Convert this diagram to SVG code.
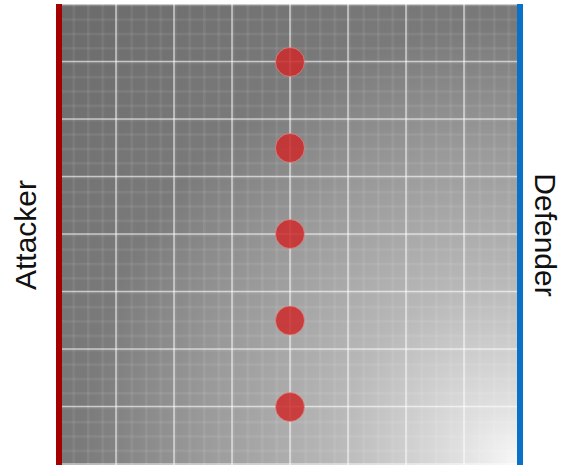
<svg xmlns="http://www.w3.org/2000/svg" width="571" height="465" viewBox="0 0 571 465">
  <defs>
    <radialGradient id="bg" gradientUnits="userSpaceOnUse" cx="515" cy="460" r="620">
      <stop offset="0" stop-color="#f6f6f6"/>
      <stop offset="0.09" stop-color="#e0e0e0"/>
      <stop offset="0.29" stop-color="#b8b8b8"/>
      <stop offset="0.51" stop-color="#999999"/>
      <stop offset="0.70" stop-color="#7a7a7a"/>
      <stop offset="1" stop-color="#6c6c6c"/>
    </radialGradient>
    <pattern id="minor" patternUnits="userSpaceOnUse" x="58" y="4" width="14.5" height="14.375">
      <rect x="0" y="0" width="2.5" height="14.375" fill="#ffffff" fill-opacity="0.07"/>
      <rect x="0" y="0" width="14.5" height="2.5" fill="#ffffff" fill-opacity="0.07"/>
    </pattern>
    <style>
      .major { stroke: #ffffff; stroke-opacity: 0.6; stroke-width: 1.6; fill: none; }
      .dot { fill: #cc2a2a; fill-opacity: 0.85; stroke: #f09090; stroke-opacity: 0.6; stroke-width: 1; }
      .lbl { font-family: "Liberation Sans", Arial, sans-serif; font-size: 30px; fill: #111111; }
    </style>
  </defs>

  <rect x="0" y="0" width="571" height="465" fill="#ffffff"/>

  <g id="field">
    <rect x="58" y="4" width="464" height="461" fill="url(#bg)"/>
    <rect x="58" y="4" width="464" height="461" fill="url(#minor)"/>
    <g class="major">
      <line x1="116" y1="4" x2="116" y2="465"/>
      <line x1="174" y1="4" x2="174" y2="465"/>
      <line x1="232" y1="4" x2="232" y2="465"/>
      <line x1="290" y1="4" x2="290" y2="465"/>
      <line x1="348" y1="4" x2="348" y2="465"/>
      <line x1="406" y1="4" x2="406" y2="465"/>
      <line x1="464" y1="4" x2="464" y2="465"/>
      <line x1="58" y1="4.5" x2="522" y2="4.5"/>
      <line x1="58" y1="61.5" x2="522" y2="61.5"/>
      <line x1="58" y1="119" x2="522" y2="119"/>
      <line x1="58" y1="176.5" x2="522" y2="176.5"/>
      <line x1="58" y1="234" x2="522" y2="234"/>
      <line x1="58" y1="291.5" x2="522" y2="291.5"/>
      <line x1="58" y1="349" x2="522" y2="349"/>
      <line x1="58" y1="406.5" x2="522" y2="406.5"/>
      <line x1="58" y1="464" x2="522" y2="464"/>
    </g>
  </g>

  <g id="attacker-side">
    <rect x="56" y="4" width="6" height="461" fill="#a30000"/>
    <text class="lbl" text-anchor="middle" transform="translate(36,235) rotate(-90)">Attacker</text>
  </g>

  <g id="defender-side">
    <rect x="517" y="4" width="6" height="461" fill="#0a72c6"/>
    <text class="lbl" text-anchor="middle" transform="translate(535,235) rotate(90)">Defender</text>
  </g>

  <g id="units">
    <circle id="unit1" class="dot" cx="290" cy="62" r="14.5"/>
    <circle id="unit2" class="dot" cx="290" cy="148" r="14.5"/>
    <circle id="unit3" class="dot" cx="290" cy="234" r="14.5"/>
    <circle id="unit4" class="dot" cx="290" cy="320.5" r="14.5"/>
    <circle id="unit5" class="dot" cx="290" cy="407" r="14.5"/>
  </g>
</svg>
